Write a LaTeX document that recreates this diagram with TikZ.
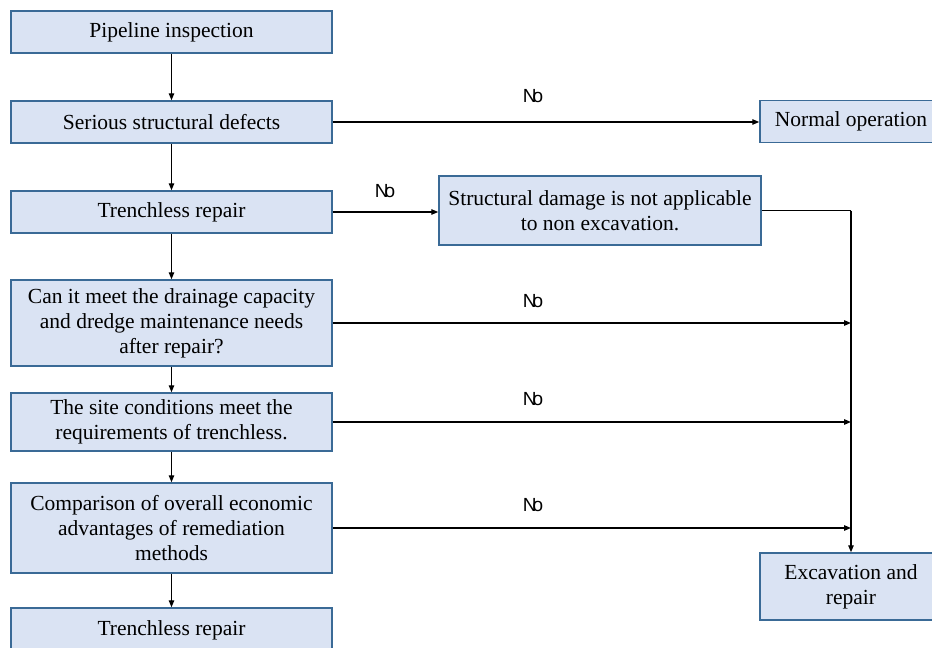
\documentclass[tikz,border=0pt]{standalone}
\usepackage{fontspec}
\setmainfont{Liberation Serif}
\setsansfont{Liberation Sans}
\usetikzlibrary{arrows.meta}
\definecolor{boxfill}{HTML}{DAE3F3}
\definecolor{boxline}{HTML}{3A6A96}
\tikzset{
  box/.style={draw=boxline, line width=1.5pt, fill=boxfill, align=center,
    inner sep=0pt, font=\fontsize{21.5}{25}\selectfont},
  leftbox/.style={box, minimum width=321pt},
  conn/.style={line width=1.3pt, draw=black, -{Triangle[length=7pt,width=5.5pt]}},
  plain/.style={line width=1.3pt, draw=black},
  nolabel/.style={font=\sffamily\fontsize{19}{22}\selectfont, inner sep=0pt}
}
\newcommand{\nolbl}{N\kern-0.2em o}
\begin{document}
\begin{tikzpicture}[x=1pt,y=-1pt]
\clip (0,0) rectangle (932,648);
\fill[white] (0,0) rectangle (932,648);
% left column
\node[leftbox, minimum height=42pt] (b1) at (171.5,32) {Pipeline inspection};
\node[leftbox, minimum height=42pt] (b2) at (171.5,122) {Serious structural defects};
\node[leftbox, minimum height=42pt] (b3) at (171.5,212) {Trenchless repair};
\node[leftbox, minimum height=86pt] (b4) at (171.5,323) {Can it meet the drainage capacity\\and dredge maintenance needs\\after repair?};
\node[leftbox, minimum height=58pt] (b5) at (171.5,422) {The site conditions meet the\\requirements of trenchless.};
\node[leftbox, minimum height=90pt] (b6) at (171.5,528) {Comparison of overall economic\\advantages of remediation\\methods};
\node[leftbox, minimum height=44pt] (b7) at (171.5,630) {Trenchless repair};
% right side
\node[box, minimum width=182pt, minimum height=42pt] (n1) at (851,121.5) {Normal operation};
\node[box, minimum width=322pt, minimum height=69pt] (s1) at (600,210.5) {Structural damage is not applicable\\to non excavation.};
\node[box, minimum width=182pt, minimum height=67pt] (e1) at (851,586.5) {Excavation and\\repair};
% helper coordinates on the collector line
\coordinate (c0) at (851,210.5);
\coordinate (c4) at (851,323);
\coordinate (c5) at (851,422);
\coordinate (c6) at (851,528);
% vertical arrows
\draw[conn] (b1) -- (b2);
\draw[conn] (b2) -- (b3);
\draw[conn] (b3) -- (b4);
\draw[conn] (b4) -- (b5);
\draw[conn] (b5) -- (b6);
\draw[conn] (b6) -- (b7);
% horizontal arrows
\draw[conn] (b2.east) -- (n1.west |- b2.east);
\draw[conn] (b3.east) -- (s1.west |- b3.east);
\draw[plain] (s1.east) -- (c0);
\draw[conn] (c0) -- (e1.north);
\draw[conn] (b4.east) -- (c4);
\draw[conn] (b5.east) -- (c5);
\draw[conn] (b6.east) -- (c6);
% labels
\node[nolabel] (l1) at (533,96.5) {\nolbl};
\node[nolabel] (l2) at (385,191) {\nolbl};
\node[nolabel] (l3) at (533,301.5) {\nolbl};
\node[nolabel] (l4) at (533,399.5) {\nolbl};
\node[nolabel] (l5) at (533,505) {\nolbl};
\end{tikzpicture}
\end{document}
